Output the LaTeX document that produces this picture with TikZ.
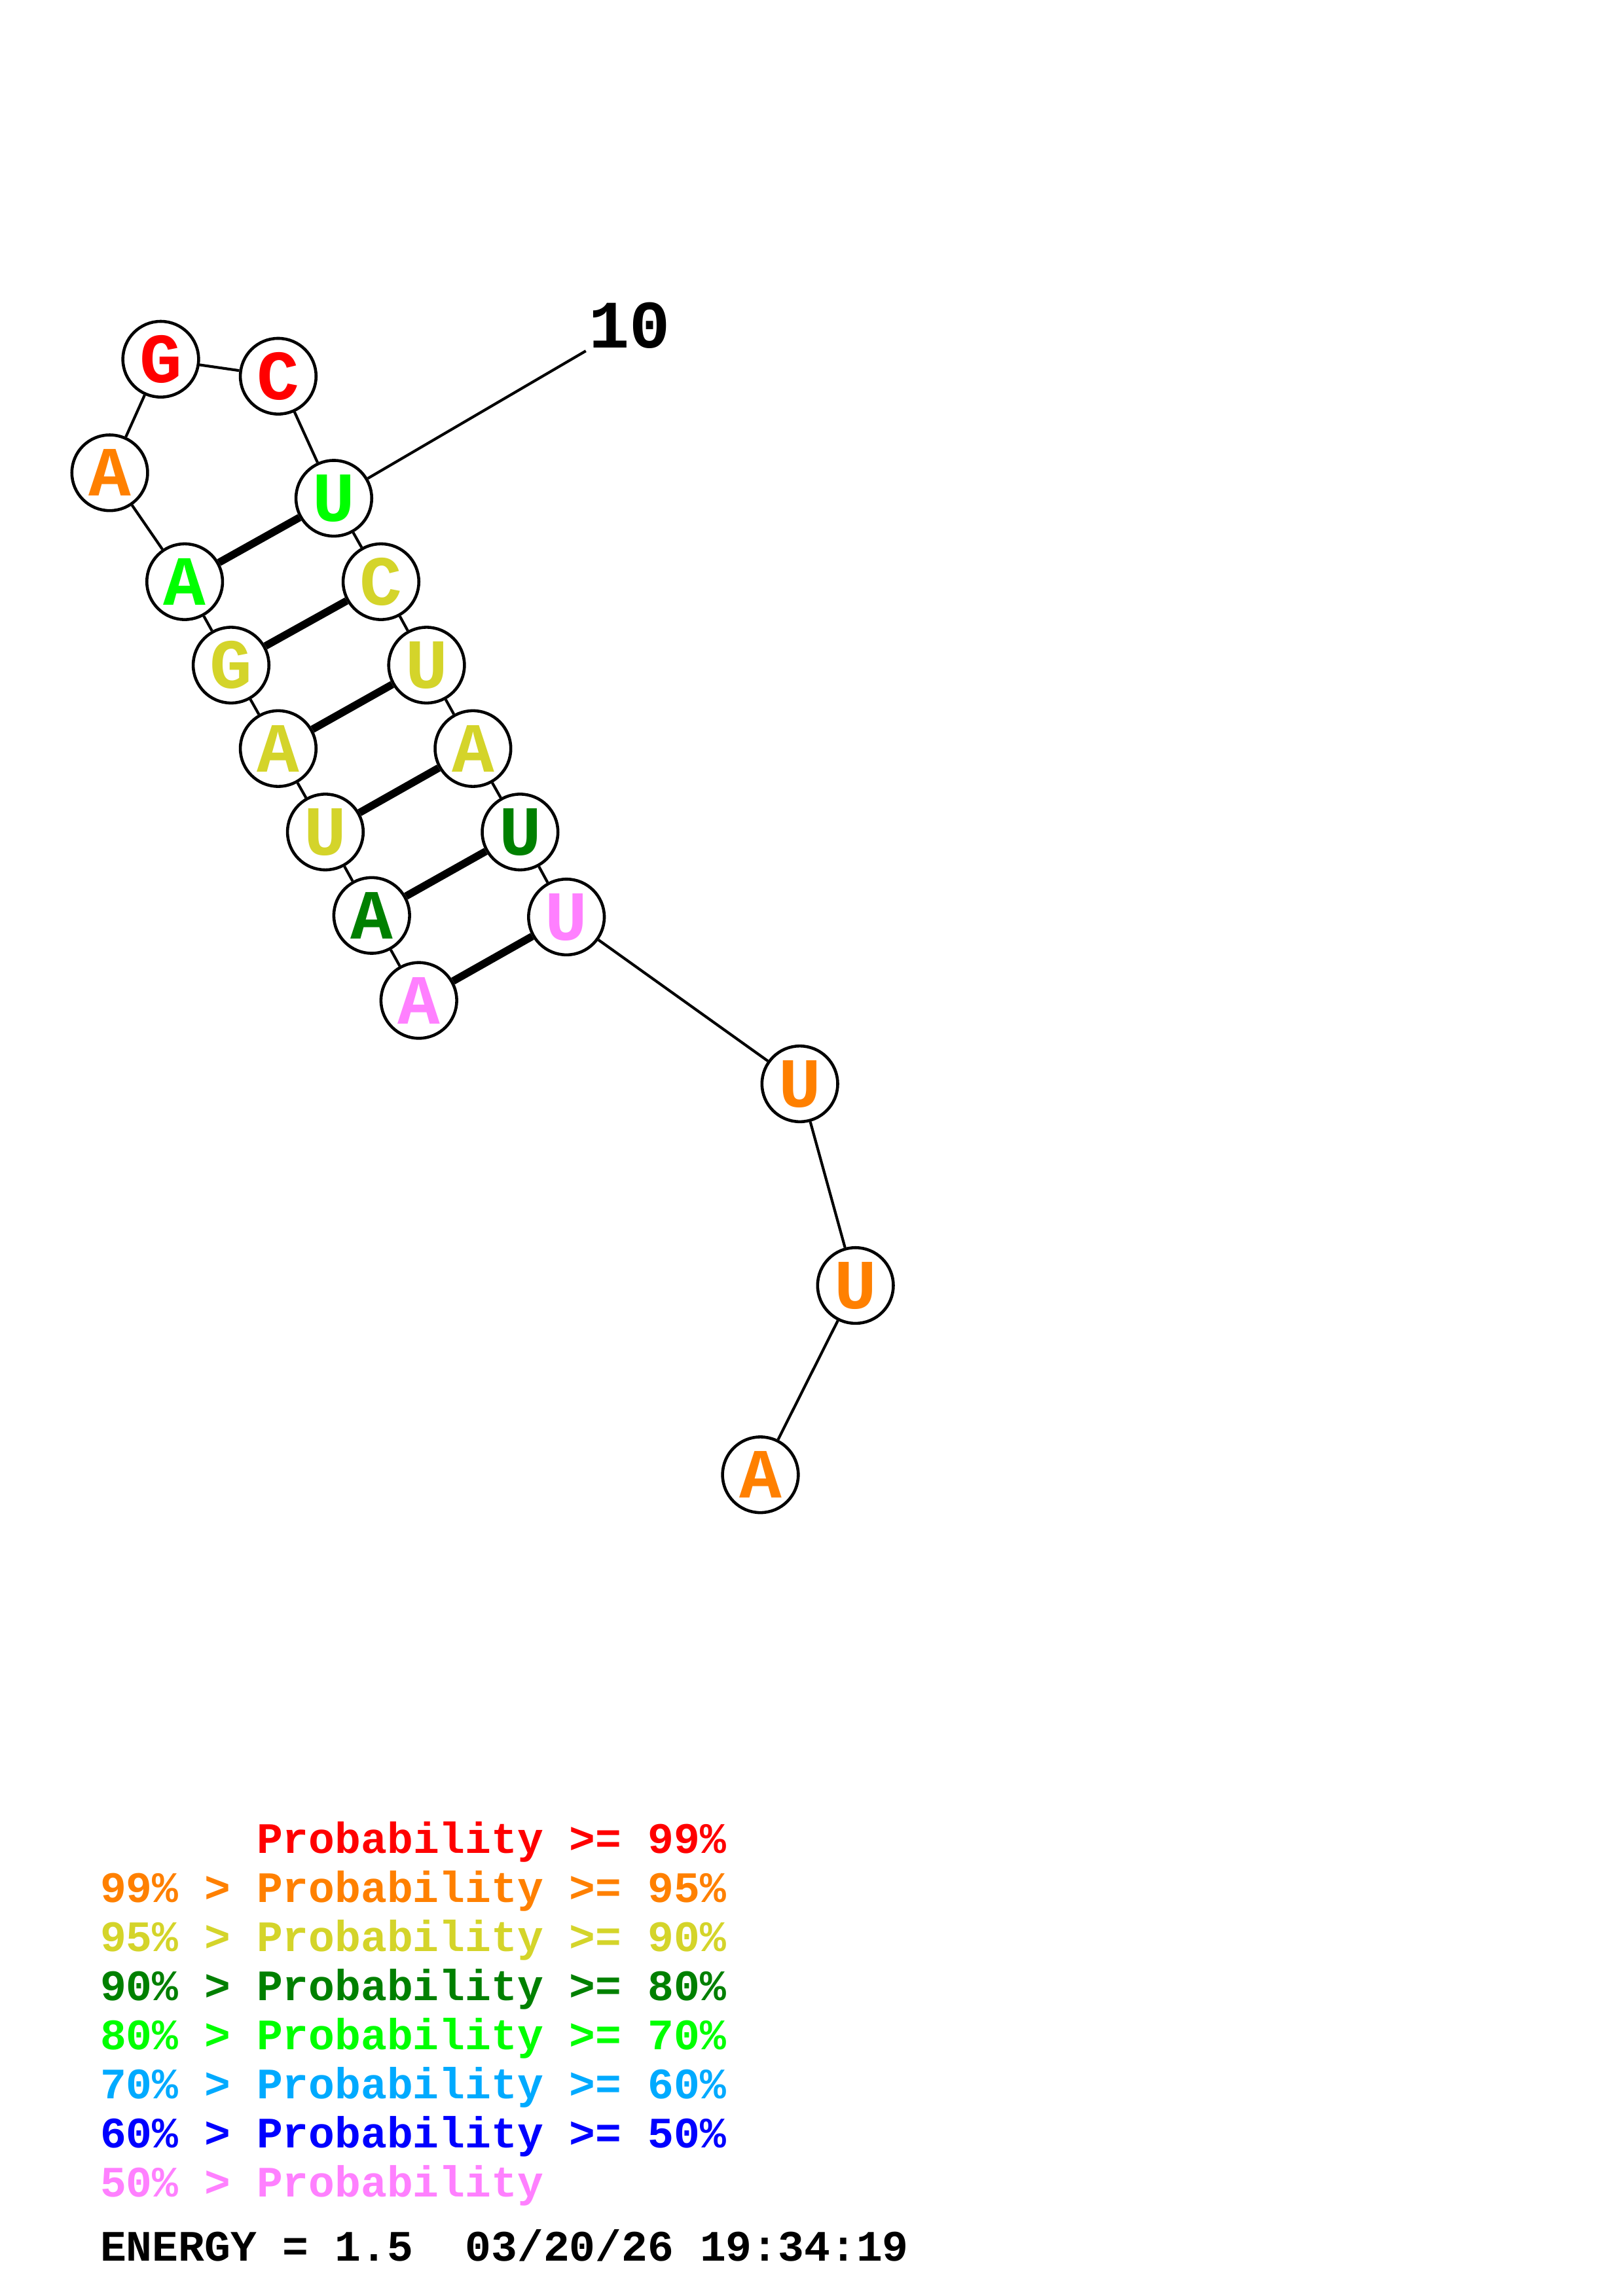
\documentclass[tikz,border=0pt]{standalone}
\usepackage{fontspec}
\setmonofont{Liberation Mono}
\definecolor{pRed}{RGB}{255,0,0}
\definecolor{pOrange}{RGB}{255,128,0}
\definecolor{pYellow}{RGB}{212,212,42}
\definecolor{pDkGreen}{RGB}{0,128,0}
\definecolor{pGreen}{RGB}{0,255,0}
\definecolor{pCyan}{RGB}{0,170,255}
\definecolor{pBlue}{RGB}{0,0,255}
\definecolor{pPink}{RGB}{255,128,255}

\begin{document}
\begin{tikzpicture}[
  base/.style={circle,draw,line width=1.1pt,fill=white,minimum size=0.98cm,inner sep=0pt,font=\fontsize{26}{26}\ttfamily\bfseries},
  bb/.style={line width=1pt},
  pair/.style={line width=2.8pt},
  legend/.style={anchor=base west,inner sep=0pt,font=\fontsize{16}{16}\ttfamily\bfseries}]
  \useasboundingbox (0,0) rectangle (21,29.72);
  % bases
  \node[base,text=pPink]    (n1)  at (5.42,16.77) {A};
  \node[base,text=pDkGreen] (n2)  at (4.81,17.87) {A};
  \node[base,text=pYellow]  (n3)  at (4.21,18.95) {U};
  \node[base,text=pYellow]  (n4)  at (3.60,20.03) {A};
  \node[base,text=pYellow]  (n5)  at (2.99,21.11) {G};
  \node[base,text=pGreen]   (n6)  at (2.39,22.19) {A};
  \node[base,text=pOrange]  (n7)  at (1.42,23.60) {A};
  \node[base,text=pRed]     (n8)  at (2.08,25.07) {G};
  \node[base,text=pRed]     (n9)  at (3.60,24.85) {C};
  \node[base,text=pGreen]   (n10) at (4.32,23.27) {U};
  \node[base,text=pYellow]  (n11) at (4.93,22.19) {C};
  \node[base,text=pYellow]  (n12) at (5.52,21.11) {U};
  \node[base,text=pYellow]  (n13) at (6.12,20.03) {A};
  \node[base,text=pDkGreen] (n14) at (6.73,18.95) {U};
  \node[base,text=pPink]    (n15) at (7.33,17.85) {U};
  \node[base,text=pOrange]  (n16) at (10.35,15.69) {U};
  \node[base,text=pOrange]  (n17) at (11.07,13.08) {U};
  \node[base,text=pOrange]  (n18) at (9.84,10.63) {A};
  \node[inner sep=1pt,font=\fontsize{25}{25}\ttfamily\bfseries] (num10) at (8.15,25.51) {10};
  % backbone
  \draw[bb] (n1) -- (n2) -- (n3) -- (n4) -- (n5) -- (n6) -- (n7) -- (n8) -- (n9)
    -- (n10) -- (n11) -- (n12) -- (n13) -- (n14) -- (n15) -- (n16) -- (n17) -- (n18);
  \draw[bb] (n10) -- (num10);
  % pairs
  \draw[pair] (n6) -- (n10);
  \draw[pair] (n5) -- (n11);
  \draw[pair] (n4) -- (n12);
  \draw[pair] (n3) -- (n13);
  \draw[pair] (n2) -- (n14);
  \draw[pair] (n1) -- (n15);
  % legend
  \node[legend,text=pRed]     (l1) at (1.29,5.73) {\phantom{99\% > }Probability >= 99\%};
  \node[legend,text=pOrange]  (l2) at (1.29,5.095) {99\% > Probability >= 95\%};
  \node[legend,text=pYellow]  (l3) at (1.29,4.46) {95\% > Probability >= 90\%};
  \node[legend,text=pDkGreen] (l4) at (1.29,3.825) {90\% > Probability >= 80\%};
  \node[legend,text=pGreen]   (l5) at (1.29,3.19) {80\% > Probability >= 70\%};
  \node[legend,text=pCyan]    (l6) at (1.29,2.555) {70\% > Probability >= 60\%};
  \node[legend,text=pBlue]    (l7) at (1.29,1.92) {60\% > Probability >= 50\%};
  \node[legend,text=pPink]    (l8) at (1.29,1.285) {50\% > Probability};
  \node[legend] (energy) at (1.29,0.457) {ENERGY = 1.5\ \ 03/20/26 19:34:19};
\end{tikzpicture}
\end{document}
